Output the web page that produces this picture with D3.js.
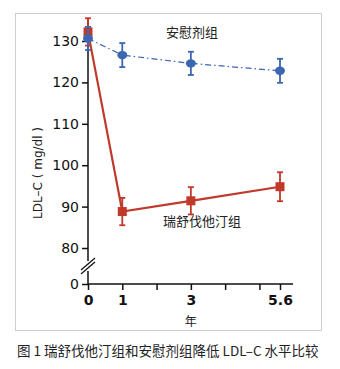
<!DOCTYPE html>
<html>
<head>
<meta charset="utf-8">
<script src="https://cdn.jsdelivr.net/npm/d3@7"></script>
<style>
  body { margin: 0; background: #fff; }
  svg text { font-family: "DejaVu Sans", sans-serif; }
  .cjk { font-family: "Noto Sans CJK SC", sans-serif; }
</style>
</head>
<body>
<div id="chart"></div>
<script>
var years = [0, 1, 3, 5.6];
var placebo = [130.6, 126.6, 124.6, 122.8];
var placeboErr = [2.8, 2.9, 2.8, 2.9];
var rosu = [132.2, 88.8, 91.4, 94.8];
var rosuErr = [3.3, 3.3, 3.3, 3.5];
var yTicks = [0, 80, 90, 100, 110, 120, 130];
var xTicks = [0, 1, 2, 3, 4, 5, 5.6];
var xLabels = [0, 1, 3, 5.6];

var W = 340, H = 369;
var svg = d3.select("#chart").append("svg").attr("width", W).attr("height", H);

// frame
svg.append("rect").attr("x", 15.5).attr("y", 13.5).attr("width", 306).attr("height", 317)
  .attr("fill", "none").attr("stroke", "#cfcfcf").attr("stroke-width", 1);

var x = d3.scaleLinear().domain([0, 5.6]).range([88, 280]);
// broken axis: 0 sits below the 80..130 part
var y = d3.scaleLinear().domain([0, 80, 130]).range([284, 248, 41]);

var blue = "#3b66b2", red = "#c0392b";

// y axis line with a gap for the break
var g = svg.append("g");
g.append("line").attr("x1", x(0)).attr("x2", x(0)).attr("y1", y(135.5)).attr("y2", y(0) - 23)
  .attr("stroke", "#111").attr("stroke-width", 1.5);
g.append("line").attr("x1", x(0)).attr("x2", x(0)).attr("y1", y(0) - 13).attr("y2", y(0))
  .attr("stroke", "#111").attr("stroke-width", 1.5);
[0, 4].forEach(function (o) {
  g.append("line").attr("x1", x(0) - 7).attr("y1", y(0) - 10 - o)
    .attr("x2", x(0) + 7).attr("y2", y(0) - 22 - o)
    .attr("stroke", "#111").attr("stroke-width", 1.2);
});

var yAxis = d3.axisLeft(y).tickValues(yTicks).tickSize(6).tickPadding(3).tickFormat(d3.format("d"));
svg.append("g").attr("transform", "translate(" + x(0) + ",0)").call(yAxis)
  .call(function (s) { s.select(".domain").remove(); })
  .call(function (s) {
    s.selectAll("line").attr("stroke", "#111").attr("stroke-width", 1.5);
    s.selectAll("text").attr("font-size", 14).attr("fill", "#111")
      .style("font-family", "DejaVu Sans, sans-serif");
  });

var xAxis = d3.axisBottom(x).tickValues(xTicks).tickSize(6).tickPadding(5)
  .tickFormat(function (d) { return xLabels.indexOf(d) >= 0 ? d : ""; });
svg.append("g").attr("transform", "translate(0," + y(0) + ")").call(xAxis)
  .call(function (s) {
    s.select(".domain").attr("d", "M" + x(0) + ",0H" + (x(5.6) + 13)).attr("stroke", "#111").attr("stroke-width", 1.5);
    s.selectAll("line").attr("stroke", "#111").attr("stroke-width", 1.5);
    s.selectAll("text").attr("font-size", 14).attr("fill", "#111").attr("font-weight", "bold")
      .style("font-family", "DejaVu Sans, sans-serif");
  });

// axis titles
svg.append("text").attr("class", "cjk").attr("x", x(3)).attr("y", 326)
  .attr("text-anchor", "middle").attr("font-size", 12).attr("fill", "#222").text("年");
svg.append("text").attr("transform", "translate(42,173) rotate(-90)")
  .attr("text-anchor", "middle").attr("font-size", 12).attr("fill", "#222")
  .style("font-family", "DejaVu Sans, sans-serif").text("LDL–C ( mg/dl )");

// placebo series
var linePlacebo = d3.line().x(function (d, i) { return x(years[i]); }).y(function (d) { return y(d); });
svg.append("path").datum(placebo).attr("d", linePlacebo).attr("fill", "none")
  .attr("stroke", blue).attr("stroke-width", 1.2).attr("stroke-dasharray", "6,3,1.5,3");

// rosuvastatin series
svg.append("path").datum(rosu).attr("d", linePlacebo).attr("fill", "none")
  .attr("stroke", red).attr("stroke-width", 2.2);

function errBars(vals, errs, col) {
  var eg = svg.append("g").attr("stroke", col).attr("stroke-width", 1.8);
  vals.forEach(function (v, i) {
    var cx = x(years[i]);
    eg.append("line").attr("x1", cx).attr("x2", cx).attr("y1", y(v - errs[i])).attr("y2", y(v + errs[i]));
    eg.append("line").attr("x1", cx - 3).attr("x2", cx + 3).attr("y1", y(v - errs[i])).attr("y2", y(v - errs[i]));
    eg.append("line").attr("x1", cx - 3).attr("x2", cx + 3).attr("y1", y(v + errs[i])).attr("y2", y(v + errs[i]));
  });
}
errBars(rosu, rosuErr, red);
svg.selectAll(".sq").data(rosu).enter().append("rect").attr("class", "sq")
  .attr("x", function (d, i) { return x(years[i]) - 4.5; })
  .attr("y", function (d) { return y(d) - 4.5; })
  .attr("width", 9).attr("height", 9).attr("fill", red);

errBars(placebo, placeboErr, blue);
svg.selectAll(".dot").data(placebo).enter().append("ellipse").attr("class", "dot")
  .attr("cx", function (d, i) { return x(years[i]); })
  .attr("cy", function (d) { return y(d); })
  .attr("rx", 5).attr("ry", 4.2).attr("fill", blue);

// series labels
svg.append("text").attr("class", "cjk").attr("x", 192).attr("y", 37).attr("text-anchor", "middle")
  .attr("font-size", 13).attr("fill", "#222").text("安慰剂组");
svg.append("text").attr("class", "cjk").attr("x", 202).attr("y", 226).attr("text-anchor", "middle")
  .attr("font-size", 13).attr("fill", "#222").text("瑞舒伐他汀组");

// caption
svg.append("text").attr("class", "cjk").attr("x", 17).attr("y", 356)
  .attr("font-size", 13.5).attr("fill", "#222").text("图 1 瑞舒伐他汀组和安慰剂组降低 LDL–C 水平比较");
</script>
</body>
</html>
